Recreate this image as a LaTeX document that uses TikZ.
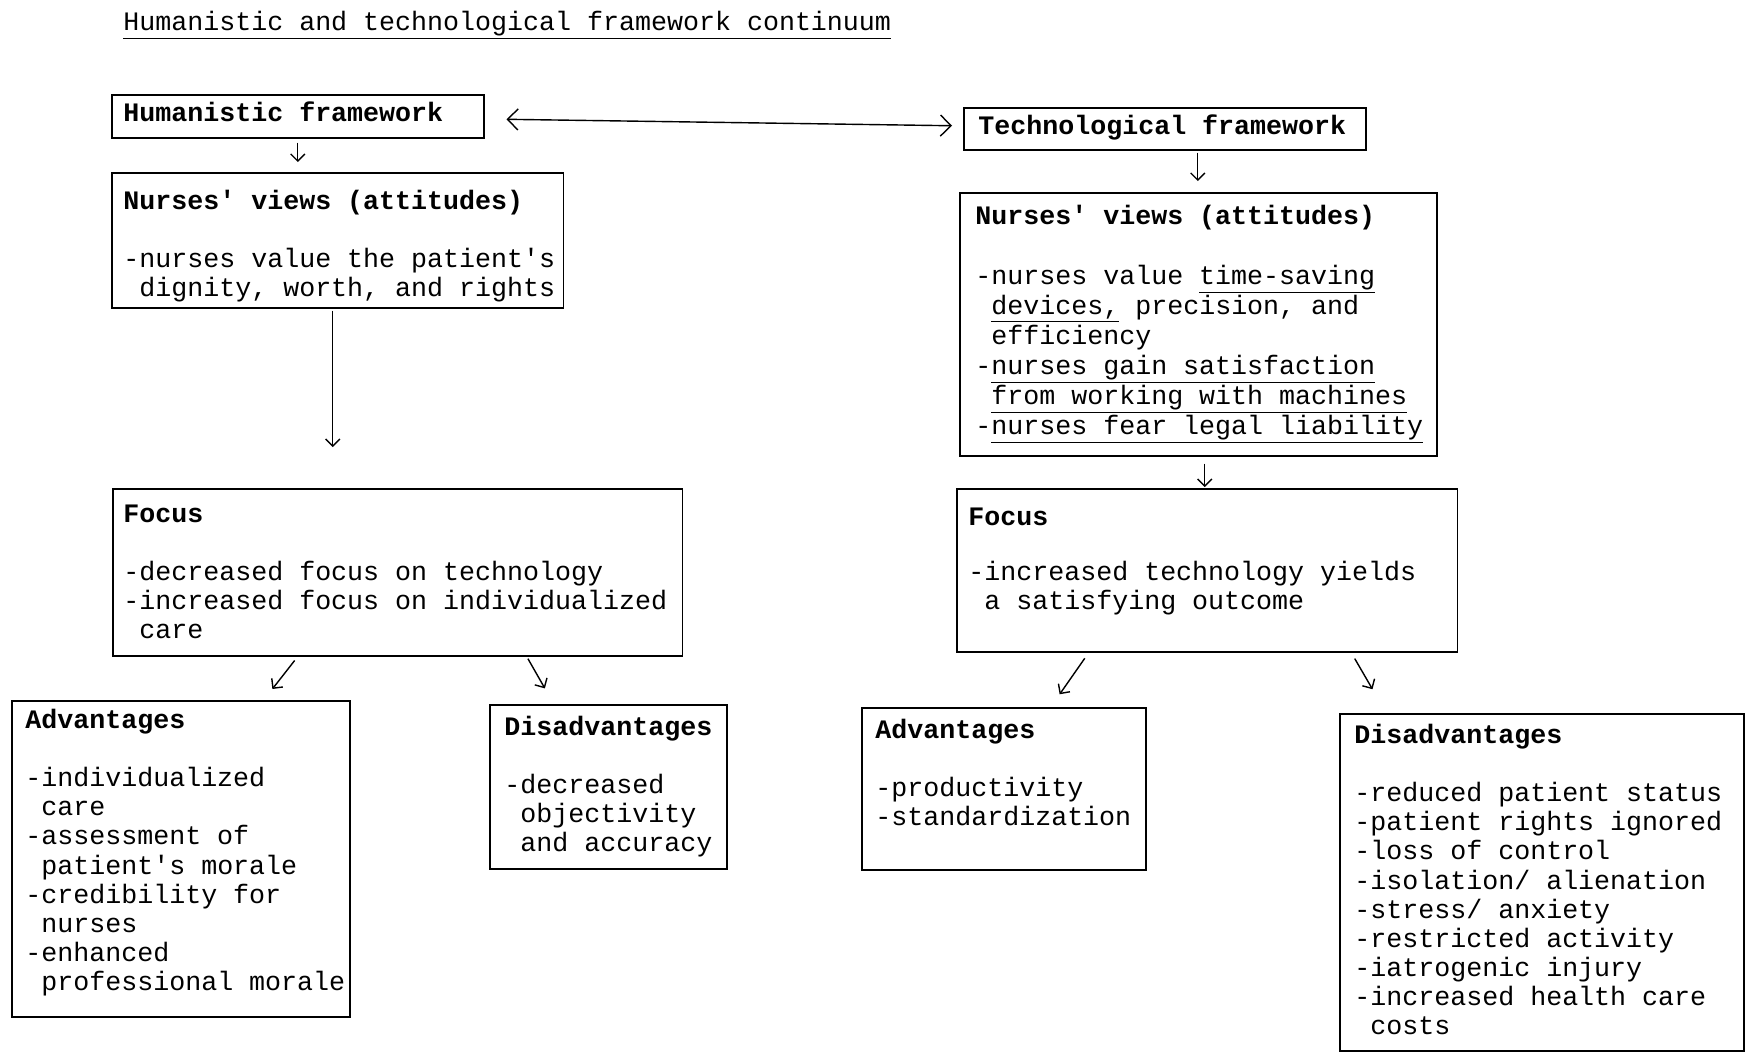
\documentclass[tikz,border=0pt]{standalone}
\usepackage{fontspec}
\setmonofont{Liberation Mono}
\usetikzlibrary{
    positioning,
    arrows.meta
}
\newcommand{\hd}[1]{\textbf{\strut #1}}
\newcommand{\ind}{\hphantom{-}}
\tikzset{
  panel/.style = {
      draw,
      anchor=north west,
      inner sep=0pt,
      line width=0.9pt
  },
  txt/.style = {
      align=left,
      inner sep=0pt
  },
  arr/.style = {
      -{Straight Barb[length=4pt,width=8pt]},
      line width=0.8pt
  },
  dbl/.style = {
      {Straight Barb[length=6pt,width=12pt]}-{Straight Barb[length=6pt,width=12pt]},
      line width=0.8pt
  }
}

\begin{document}
\begin{tikzpicture}[x=0.02cm, y=-0.02cm, font=\ttfamily\fontsize{15.17pt}{16.6pt}\selectfont]
    \useasboundingbox (0,0) rectangle (1752,1055);
    % Title
    \node[anchor=base west, inner sep=0pt] (title) at (123,30)
        {\underline{Humanistic and technological framework continuum}};
    % Nodes
    \node[panel, minimum width=7.44cm, minimum height=0.86cm] (hfw) at (111,94) {};
    \node[txt, below right=0.14cm and 0.24cm of hfw.north west] (hfwtext)
        {\hd{Humanistic framework}};

    \node[panel, minimum width=8.04cm, minimum height=0.84cm] (tfw) at (963,107) {};
    \node[txt, below right=0.13cm and 0.3cm of tfw.north west] (tfwtext)
        {\hd{Technological framework}};

    \node[panel, minimum width=9.04cm, minimum height=2.70cm] (hnv) at (111,172) {};
    \node[txt, below right=0.33cm and 0.24cm of hnv.north west] (hnvtext)
        {\hd{Nurses' views (attitudes)}\\[\baselineskip]
         -nurses value the patient's\\
         \ind dignity, worth, and rights};

    \node[panel, minimum width=9.54cm, minimum height=5.26cm] (tnv) at (959,192) {};
    \node[txt, font=\ttfamily\fontsize{15.17pt}{17.1pt}\selectfont,
          below right=0.22cm and 0.32cm of tnv.north west] (tnvtext)
        {\hd{Nurses' views (attitudes)}\\[\baselineskip]
         -nurses value \underline{time-saving}\\
         \ind\underline{devices,} precision, and\\
         \ind efficiency\\
         -\underline{nurses gain satisfaction}\\
         \ind\underline{from working with machines}\\
         -\underline{nurses fear legal liability}};

    \node[panel, minimum width=11.40cm, minimum height=3.34cm] (hfoc) at (112,488) {};
    \node[txt, below right=0.27cm and 0.22cm of hfoc.north west] (hfoctext)
        {\hd{Focus}\\[\baselineskip]
         -decreased focus on technology\\
         -increased focus on individualized\\
         \ind care};

    \node[panel, minimum width=10.02cm, minimum height=3.26cm] (tfoc) at (956,488) {};
    \node[txt, below right=0.34cm and 0.24cm of tfoc.north west] (tfoctext)
        {\hd{Focus}\\[14.6pt]
         -increased technology yields\\
         \ind a satisfying outcome};

    \node[panel, minimum width=6.76cm, minimum height=6.32cm] (hadv) at (11,700) {};
    \node[txt, below right=0.15cm and 0.28cm of hadv.north west] (hadvtext)
        {\hd{Advantages}\\[\baselineskip]
         -individualized\\
         \ind care\\
         -assessment of\\
         \ind patient's morale\\
         -credibility for\\
         \ind nurses\\
         -enhanced\\
         \ind professional morale};

    \node[panel, minimum width=4.74cm, minimum height=3.28cm] (hdis) at (489,704) {};
    \node[txt, below right=0.21cm and 0.30cm of hdis.north west] (hdistext)
        {\hd{Disadvantages}\\[\baselineskip]
         -decreased\\
         \ind objectivity\\
         \ind and accuracy};

    \node[panel, minimum width=5.68cm, minimum height=3.24cm] (tadv) at (861,707) {};
    \node[txt, below right=0.21cm and 0.28cm of tadv.north west] (tadvtext)
        {\hd{Advantages}\\[\baselineskip]
         -productivity\\
         -standardization};

    \node[panel, minimum width=8.08cm, minimum height=6.74cm] (tdis) at (1339,713) {};
    \node[txt, below right=0.19cm and 0.30cm of tdis.north west] (tdistext)
        {\hd{Disadvantages}\\[\baselineskip]
         -reduced patient status\\
         -patient rights ignored\\
         -loss of control\\
         -isolation/ alienation\\
         -stress/ anxiety\\
         -restricted activity\\
         -iatrogenic injury\\
         -increased health care\\
         \ind costs};
    % Edges
    \draw[dbl, shorten <=0.44cm, shorten >=0.22cm] (hfw) -- (tfw);
    \draw[arr, shorten <=0.08cm, shorten >=0.2cm] (hfw.south) -- (hfw.south |- hnv.north);
    \draw[arr, shorten <=0.04cm, shorten >=0.82cm]
        ([xshift=-0.1cm]hnv.south) -- ([xshift=-0.1cm]hnv.south |- hfoc.north);
    \draw[arr, shorten <=0.04cm, shorten >=0.22cm]
        ([xshift=0.66cm]tfw.south) -- ([xshift=0.66cm]tfw.south |- tnv.north);
    \draw[arr, shorten <=0.14cm, shorten >=0.02cm]
        ([xshift=0.13cm]tnv.south) -- ([xshift=0.13cm]tnv.south |- tfoc.north);
    \draw[arr, shorten <=0.1cm, shorten >=0.28cm]
        ([xshift=-2cm]hfoc.south) -- ([xshift=1.66cm]hadv.north);
    \draw[arr, shorten <=0.05cm, shorten >=0.36cm]
        ([xshift=2.58cm]hfoc.south) -- ([xshift=-1.09cm]hdis.north);
    \draw[arr, shorten <=0.14cm, shorten >=0.31cm]
        ([xshift=-2.37cm]tfoc.south) -- ([xshift=0.94cm]tadv.north);
    \draw[arr, shorten <=0.14cm, shorten >=0.55cm]
        ([xshift=2.88cm]tfoc.south) -- ([xshift=-3.11cm]tdis.north);
\end{tikzpicture}
\end{document}
